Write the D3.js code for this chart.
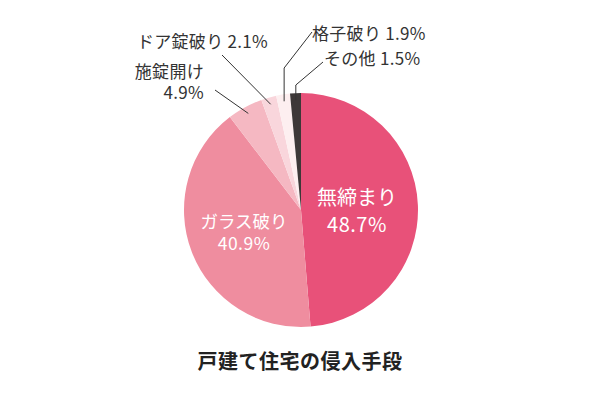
<!DOCTYPE html>
<html>
<head>
<meta charset="utf-8">
<script src="https://cdn.jsdelivr.net/npm/d3@7"></script>
<style>
  body { margin: 0; background: #fff; }
  svg { display: block; font-family: "Noto Sans CJK JP", "Noto Sans", sans-serif; }
</style>
</head>
<body>
<svg width="599" height="394"></svg>
<script>
// data, clockwise from 12 o'clock
var categories = ['無締まり', 'ガラス破り', '施錠開け', 'ドア錠破り', '格子破り', 'その他'];
var values = [48.7, 40.9, 4.9, 2.1, 1.9, 1.5];
var colors = ['#e85179', '#ef8d9f', '#f5b8c2', '#f9d6dc', '#fdeff0', '#3d3838'];
var title = '戸建て住宅の侵入手段';

var svg = d3.select('svg');
var cx = 301, cy = 210, radius = 117;

var g = svg.append('g')
    .attr('transform', 'translate(' + cx + ',' + cy + ')');

var pie = d3.pie().sort(null).value(function(d) { return d; });
var arcs = pie(values);

var arc = d3.arc().innerRadius(0).outerRadius(radius);

g.selectAll('path.slice')
    .data(arcs)
    .enter()
    .append('path')
    .attr('class', 'slice')
    .attr('fill', function(d, i) { return colors[i]; })
    .attr('d', arc);

// labels inside the two big slices
var inside = [
    { i: 0, x: 56, y: -5, dy: 27, size: 20 },
    { i: 1, x: -57, y: 18, dy: 22, size: 17.5 }
];

inside.forEach(function(l) {
    var t = g.append('text')
        .attr('text-anchor', 'middle')
        .attr('fill', '#fff')
        .style('font-size', l.size + 'px');
    t.append('tspan').attr('x', l.x).attr('y', l.y).text(categories[l.i]);
    t.append('tspan').attr('x', l.x).attr('y', l.y + l.dy)
        .style('letter-spacing', '0.5px')
        .text(values[l.i] + '%');
});

// outside labels with leader lines
var pointArc = d3.arc().innerRadius(110).outerRadius(110);

var outside = [
    { i: 2, lines: [categories[2], values[2] + '%'], x: -97, y: -132, anchor: 'end', start: [-86, -120], elbow: null },
    { i: 3, lines: [categories[3] + ' ' + values[3] + '%'], x: -33, y: -162, anchor: 'end', start: [-79, -155], elbow: null },
    { i: 4, lines: [categories[4] + ' ' + values[4] + '%'], x: 11, y: -170, anchor: 'start', start: [11, -178], elbow: -142 },
    { i: 5, lines: [categories[5] + ' ' + values[5] + '%'], x: 23, y: -145, anchor: 'start', start: [22, -148], elbow: -125 }
];

outside.forEach(function(l) {
    var p = pointArc.centroid(arcs[l.i]);
    var pts = [l.start];
    if (l.elbow !== null) pts.push([p[0], l.elbow]);
    pts.push(p);

    g.append('path')
        .attr('d', d3.line()(pts))
        .attr('fill', 'none')
        .attr('stroke', '#333')
        .attr('stroke-width', 1);

    var t = g.append('text')
        .attr('text-anchor', l.anchor)
        .attr('fill', '#333')
        .style('font-size', '17px')
        .style('letter-spacing', '0.3px');
    l.lines.forEach(function(s, k) {
        t.append('tspan').attr('x', l.x).attr('y', l.y + k * 21).text(s);
    });
});

// chart title
svg.append('text')
    .attr('x', 300)
    .attr('y', 369)
    .attr('text-anchor', 'middle')
    .attr('fill', '#222')
    .style('font-size', '20px')
    .style('font-weight', 'bold')
    .style('letter-spacing', '0.5px')
    .text(title);
</script>
</body>
</html>
